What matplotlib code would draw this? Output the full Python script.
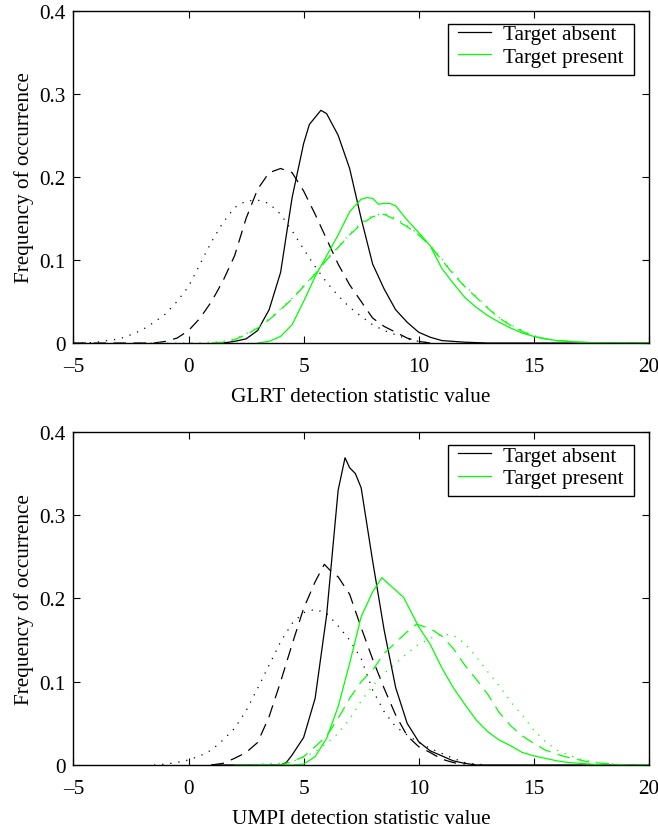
import matplotlib
matplotlib.use("Agg")
import matplotlib.pyplot as plt
from matplotlib.ticker import FuncFormatter
from matplotlib.patches import Rectangle

plt.rcParams['font.family'] = ['Liberation Serif', 'DejaVu Serif']

GREEN = '#00ff00'

# ---------------- GLRT (top) ----------------
glrt_abs_solid_x = [1.5, 2, 2.5, 3, 3.5, 4, 4.5, 5, 5.25, 5.75, 6, 6.5, 7, 7.5, 8, 8.5, 9, 9.5, 10, 10.5, 11, 11.5, 12, 13, 20]
glrt_abs_solid_y = [0, 0.002, 0.005, 0.015, 0.04, 0.085, 0.175, 0.24, 0.263, 0.28, 0.276, 0.25, 0.21, 0.15, 0.095, 0.065, 0.04, 0.025, 0.013, 0.007, 0.003, 0.002, 0.001, 0, 0]

glrt_abs_dash_x = [-5, -1.5, -1, -0.5, 0, 0.5, 1, 1.5, 2, 2.5, 3, 3.5, 4, 4.5, 5, 5.5, 6, 6.5, 7, 7.5, 8, 8.5, 9, 9.5, 10, 10.5]
glrt_abs_dash_y = [0, 0, 0.002, 0.006, 0.015, 0.03, 0.05, 0.075, 0.105, 0.15, 0.185, 0.205, 0.21, 0.205, 0.183, 0.155, 0.125, 0.095, 0.07, 0.05, 0.03, 0.02, 0.013, 0.006, 0.002, 0]

glrt_abs_dot_x = [-5, -4.5, -4, -3.5, -3, -2.5, -2, -1.5, -1, -0.5, 0, 0.5, 1, 1.5, 2, 2.5, 3, 3.5, 4, 4.5, 5, 5.5, 6, 6.5, 7, 7.5, 8, 8.5, 9, 9.5, 10, 10.5]
glrt_abs_dot_y = [0, 0, 0.001, 0.003, 0.005, 0.01, 0.016, 0.025, 0.035, 0.05, 0.068, 0.095, 0.122, 0.145, 0.163, 0.171, 0.172, 0.168, 0.155, 0.135, 0.113, 0.092, 0.073, 0.057, 0.043, 0.032, 0.022, 0.015, 0.01, 0.005, 0.002, 0]

glrt_pre_solid_x = [3, 3.5, 4, 4.5, 5, 5.5, 6, 6.5, 7, 7.5, 7.75, 8, 8.25, 8.5, 8.75, 9, 9.5, 10, 10.5, 11, 11.5, 12, 12.5, 13, 13.5, 14, 14.5, 15, 15.5, 16, 17, 18, 20]
glrt_pre_solid_y = [0, 0.002, 0.008, 0.022, 0.05, 0.08, 0.105, 0.13, 0.158, 0.173, 0.175, 0.174, 0.167, 0.168, 0.168, 0.165, 0.148, 0.133, 0.117, 0.09, 0.072, 0.055, 0.043, 0.033, 0.025, 0.018, 0.012, 0.008, 0.005, 0.003, 0.001, 0, 0]

glrt_pre_dash_x = [1, 1.5, 2, 2.5, 3, 3.5, 4, 4.5, 5, 5.5, 6, 6.5, 7, 7.5, 8, 8.5, 9, 9.5, 10, 10.5, 11, 11.5, 12, 12.5, 13, 13.5, 14, 14.5, 15, 15.5, 16, 17, 18, 20]
glrt_pre_dash_y = [0, 0.001, 0.004, 0.01, 0.018, 0.028, 0.04, 0.053, 0.068, 0.083, 0.1, 0.115, 0.13, 0.143, 0.152, 0.155, 0.148, 0.14, 0.13, 0.117, 0.1, 0.083, 0.068, 0.055, 0.042, 0.03, 0.021, 0.014, 0.008, 0.005, 0.003, 0.001, 0, 0]

glrt_pre_dot_x = [-2, 0, 1, 1.5, 2, 2.5, 3, 3.5, 4, 4.5, 5, 5.5, 6, 6.5, 7, 7.5, 8, 8.5, 9, 9.5, 10, 10.5, 11, 11.5, 12, 12.5, 13, 13.5, 14, 14.5, 15, 15.5, 16, 17, 18, 20]
glrt_pre_dot_y = [0, 0, 0.001, 0.002, 0.005, 0.011, 0.019, 0.029, 0.041, 0.054, 0.069, 0.084, 0.101, 0.116, 0.131, 0.145, 0.153, 0.156, 0.15, 0.141, 0.131, 0.118, 0.101, 0.085, 0.069, 0.056, 0.043, 0.031, 0.022, 0.015, 0.009, 0.005, 0.003, 0.001, 0, 0]

# ---------------- UMPI (bottom) ----------------
umpi_abs_solid_x = [1, 4, 4.25, 4.5, 5, 5.5, 6, 6.5, 6.8, 7, 7.25, 7.5, 8, 8.5, 9, 9.5, 10, 10.5, 11, 11.5, 12, 12.5, 20]
umpi_abs_solid_y = [0, 0, 0.003, 0.012, 0.033, 0.08, 0.18, 0.33, 0.369, 0.357, 0.35, 0.333, 0.245, 0.162, 0.093, 0.05, 0.028, 0.017, 0.011, 0.005, 0.002, 0, 0]

umpi_abs_dash_x = [1, 1.5, 2, 2.5, 3, 3.5, 4, 4.5, 5, 5.5, 5.9, 6.25, 6.5, 7, 7.5, 8, 8.5, 9, 9.5, 10, 10.5, 11, 11.5, 12]
umpi_abs_dash_y = [0, 0.002, 0.008, 0.015, 0.027, 0.058, 0.1, 0.145, 0.188, 0.22, 0.241, 0.231, 0.226, 0.205, 0.165, 0.127, 0.092, 0.06, 0.035, 0.022, 0.015, 0.007, 0.003, 0]

umpi_abs_dot_x = [-1.5, -1, -0.5, 0, 0.5, 1, 1.5, 2, 2.5, 3, 3.5, 4, 4.5, 5, 5.5, 6, 6.5, 7, 7.5, 8, 8.5, 9, 9.5, 10, 10.5, 11, 11.5, 12, 12.5, 13]
umpi_abs_dot_y = [0, 0.001, 0.003, 0.006, 0.011, 0.018, 0.03, 0.044, 0.065, 0.092, 0.12, 0.148, 0.17, 0.183, 0.187, 0.182, 0.167, 0.15, 0.128, 0.09, 0.064, 0.046, 0.036, 0.027, 0.02, 0.014, 0.008, 0.003, 0.001, 0]

umpi_pre_solid_x = [2, 4.5, 5, 5.5, 6, 6.5, 7, 7.5, 8, 8.4, 8.75, 9, 9.35, 9.5, 10, 10.5, 11, 11.5, 12, 12.5, 13, 13.5, 14, 14.5, 15, 15.5, 16, 16.5, 17, 18, 20]
umpi_pre_solid_y = [0, 0, 0.001, 0.01, 0.032, 0.07, 0.122, 0.178, 0.208, 0.225, 0.216, 0.21, 0.201, 0.193, 0.166, 0.145, 0.117, 0.093, 0.073, 0.054, 0.04, 0.03, 0.023, 0.015, 0.011, 0.008, 0.005, 0.003, 0.002, 0, 0]

umpi_pre_dash_x = [3, 4, 4.5, 5, 5.5, 6, 6.5, 7, 7.5, 8, 8.5, 9, 9.5, 9.9, 10.5, 11, 11.5, 12, 12.5, 13, 13.5, 14, 14.5, 15, 15.5, 16, 16.5, 17, 17.5, 18, 19, 20]
umpi_pre_dash_y = [0, 0, 0.004, 0.01, 0.022, 0.035, 0.056, 0.08, 0.1, 0.114, 0.134, 0.147, 0.16, 0.169, 0.164, 0.155, 0.14, 0.12, 0.103, 0.085, 0.063, 0.047, 0.035, 0.026, 0.018, 0.013, 0.009, 0.006, 0.003, 0.002, 0, 0]

umpi_pre_dot_x = [2.5, 3, 4, 4.5, 5, 5.5, 6, 6.5, 7, 7.5, 8, 8.5, 9, 9.5, 10, 10.5, 11, 11.5, 12, 12.5, 13, 13.5, 14, 14.5, 15, 15.5, 16, 16.5, 17, 17.5, 18, 19, 20]
umpi_pre_dot_y = [0, 0.001, 0.002, 0.004, 0.009, 0.016, 0.026, 0.038, 0.055, 0.077, 0.095, 0.11, 0.122, 0.134, 0.145, 0.152, 0.157, 0.156, 0.146, 0.13, 0.112, 0.095, 0.076, 0.06, 0.042, 0.028, 0.018, 0.012, 0.007, 0.004, 0.002, 0, 0]

x_ticks = [-5, 0, 5, 10, 15, 20]
y_ticks = [0, 0.1, 0.2, 0.3, 0.4]
legend_labels = ['Target absent', 'Target present']
x_labels = ['GLRT detection statistic value', 'UMPI detection statistic value']
y_label = 'Frequency of occurrence'

DASH = (0, (10, 6))
DOT = (0, (1, 5.5))
LW = 0.9
FS = 15.3

fig = plt.figure(figsize=(6.58, 8.28), dpi=100)
ax1 = fig.add_axes([0.1117, 0.5845, 0.8743, 0.4015])
ax2 = fig.add_axes([0.1117, 0.0749, 0.8743, 0.4022])

def fmt(v, pos):
    if abs(v) < 1e-9:
        return '0'
    s = f'{v:g}'
    return s.replace('-', '\u2013')

datasets = [
    (ax1, [(glrt_abs_solid_x, glrt_abs_solid_y), (glrt_abs_dash_x, glrt_abs_dash_y), (glrt_abs_dot_x, glrt_abs_dot_y)],
          [(glrt_pre_solid_x, glrt_pre_solid_y), (glrt_pre_dash_x, glrt_pre_dash_y), (glrt_pre_dot_x, glrt_pre_dot_y)], x_labels[0]),
    (ax2, [(umpi_abs_solid_x, umpi_abs_solid_y), (umpi_abs_dash_x, umpi_abs_dash_y), (umpi_abs_dot_x, umpi_abs_dot_y)],
          [(umpi_pre_solid_x, umpi_pre_solid_y), (umpi_pre_dash_x, umpi_pre_dash_y), (umpi_pre_dot_x, umpi_pre_dot_y)], x_labels[1]),
]

for ax, absent, present, xl in datasets:
    styles = ['-', DASH, DOT]
    h_abs = None
    h_pre = None
    for (x, y), ls in zip(absent, styles):
        l, = ax.plot(x, y, color='black', ls=ls, lw=LW)
        if h_abs is None:
            h_abs = l
    for (x, y), ls in zip(present, styles):
        l, = ax.plot(x, y, color=GREEN, ls=ls, lw=LW)
        if h_pre is None:
            h_pre = l
    ax.set_xlim(-5, 20)
    ax.set_ylim(0, 0.4)
    ax.set_xticks(x_ticks)
    ax.set_yticks(y_ticks)
    ax.xaxis.set_major_formatter(FuncFormatter(fmt))
    ax.yaxis.set_major_formatter(FuncFormatter(fmt))
    ax.tick_params(direction='in', top=True, right=True, length=5, width=0.8, labelsize=FS)
    ax.tick_params(axis='x', pad=10)
    ax.tick_params(axis='y', pad=5.5)
    for sp in ax.spines.values():
        sp.set_linewidth(1.0)
    ax.set_xlabel(xl, fontsize=FS, labelpad=8)
    ax.set_ylabel(y_label, fontsize=FS, labelpad=4)
    # legend frame (MATLAB-style box)
    ax.add_patch(Rectangle((0.6507, 0.8065), 0.3233, 0.1535, transform=ax.transAxes,
                           facecolor='white', edgecolor='black', lw=1.0, zorder=4))
    leg = ax.legend([h_abs, h_pre], legend_labels, loc='upper left',
                    bbox_to_anchor=(0.669, 0.958), fontsize=FS, frameon=False,
                    borderaxespad=0, borderpad=0,
                    handlelength=1.55, handletextpad=0.55, labelspacing=0.12)
    leg.set_zorder(5)

fig.savefig('out.png', dpi=100)
